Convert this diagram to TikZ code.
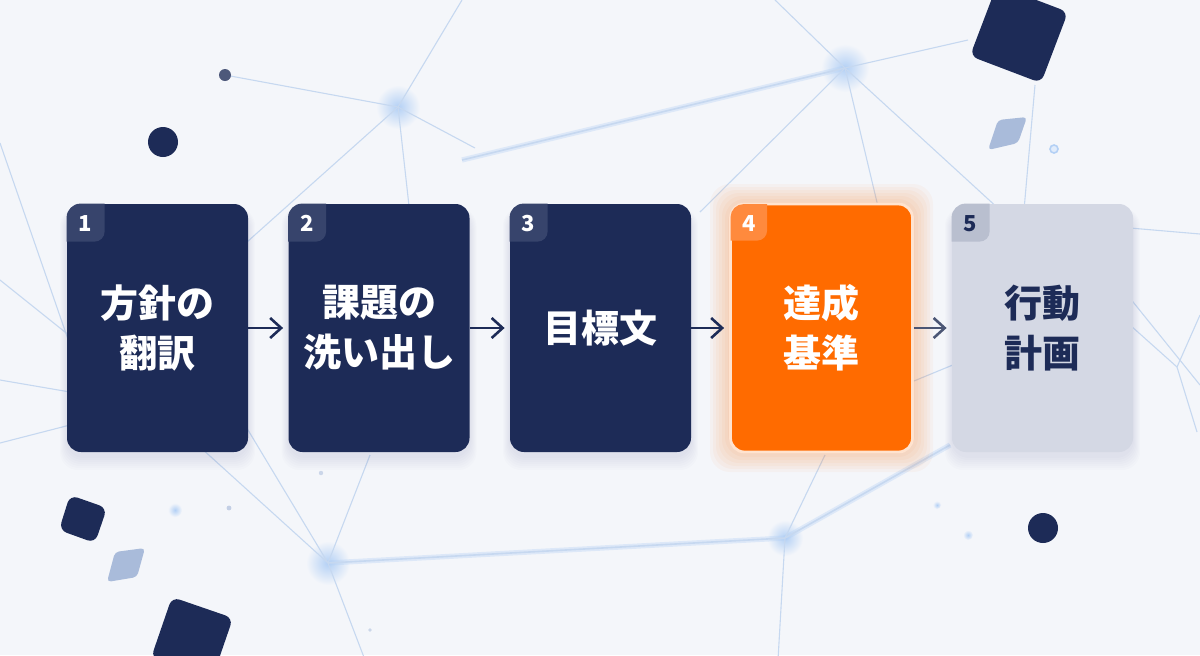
\documentclass[tikz,border=0pt]{standalone}
\usepackage{fontspec}
\newfontfamily\jp{Noto Sans CJK JP}
\usetikzlibrary{arrows.meta}
\definecolor{bg}{HTML}{F4F6FA}
\definecolor{navy}{HTML}{1D2B57}
\definecolor{navybadge}{HTML}{37446C}
\definecolor{myorange}{HTML}{FF6B00}
\definecolor{orbadge}{HTML}{FF8A3D}
\definecolor{orborder}{HTML}{FFE3CF}
\definecolor{gcard}{HTML}{D4D8E4}
\definecolor{gbadge}{HTML}{B9BFCF}
\definecolor{netline}{HTML}{C6D8F0}
\definecolor{glowc}{HTML}{B3D0F5}
\definecolor{arrowgray}{HTML}{4B5675}
\definecolor{lightsq}{HTML}{A9BBDA}
\definecolor{dotgray}{HTML}{4D587A}
\tikzset{
  card/.style={rounded corners=7pt, minimum width=90.5pt, minimum height=124pt,
    inner sep=0pt, align=center, font=\jp\bfseries\fontsize{19}{25}\selectfont, text=white},
  numst/.style={font=\jp\bfseries\fontsize{11}{12}\selectfont, text=white, inner sep=0pt},
  arr/.style={line width=1.3pt, -{Straight Barb[length=5.5pt,width=10pt]}, shorten >=2.5pt},
  net/.style={netline, line width=0.55pt},
  netglow/.style={glowc, line width=2.6pt, opacity=0.35},
}
\begin{document}
\begin{tikzpicture}[x=0.5pt,y=-0.5pt]
\fill[bg] (0,0) rectangle (1200,655);
\useasboundingbox (0,0) rectangle (1200,655);
\begin{scope}
\clip (0,0) rectangle (1200,655);
% glows
\shade[inner color=glowc, outer color=bg] (398,107) circle (11pt);
\shade[inner color=glowc, outer color=bg] (845,68) circle (12pt);
\shade[inner color=glowc, outer color=bg] (328,563) circle (11pt);
\shade[inner color=glowc, outer color=bg] (785,538) circle (9pt);
\shade[inner color=glowc, outer color=bg] (175,510) circle (3.5pt);
\shade[inner color=glowc, outer color=bg] (968,535) circle (2.5pt);
\shade[inner color=glowc, outer color=bg] (937,505) circle (2pt);
% bright connections
\draw[netglow] (845,68) -- (462,160);
\draw[netglow] (328,563) -- (785,538);
\draw[netglow] (785,538) -- (950,445);
% network lines
\draw[net] (225,75) -- (398,107);
\draw[net] (398,107) -- (462,0);
\draw[net] (398,107) -- (200,284);
\draw[net] (398,107) -- (410,215);
\draw[net] (398,107) -- (475,148);
\draw[net] (845,68) -- (775,0);
\draw[net] (845,68) -- (968,40);
\draw[net, line width=0.8pt] (845,68) -- (462,160);
\draw[net] (845,68) -- (700,212);
\draw[net] (845,68) -- (880,215);
\draw[net] (845,68) -- (1000,210);
\draw[net] (1035,85) -- (1024,210);
\draw[net] (1130,228) -- (1200,234);
\draw[net] (1125,292) -- (1200,385);
\draw[net] (1130,325) -- (1177,367);
\draw[net] (1200,315) -- (1177,367) -- (1197,432);
\draw[net] (880,395) -- (960,362);
\draw[net] (0,143) -- (70,345);
\draw[net] (0,280) -- (70,336);
\draw[net] (0,380) -- (70,392);
\draw[net] (0,443) -- (70,425);
\draw[net] (200,447) -- (328,563);
\draw[net] (245,425) -- (328,563);
\draw[net] (370,455) -- (328,563);
\draw[net] (328,563) -- (365,660);
\draw[net, line width=0.8pt] (328,563) -- (785,538);
\draw[net] (785,538) -- (825,455);
\draw[net, line width=0.8pt] (785,538) -- (950,445);
\draw[net] (785,538) -- (778,660);
% small dots
\fill[lightsq!70] (229,508) circle (1.2pt);
\fill[lightsq!60] (321,473) circle (1.1pt);
\fill[lightsq!60] (370,630) circle (0.9pt);
\draw[glowc, line width=0.8pt, fill=glowc!40] (1054,149) circle (2pt);
% decorations
\fill[navy, rounded corners=4pt] (970,56) -- (1041,83) -- (1068,12) -- (997,-15) -- cycle;
\fill[lightsq, rounded corners=2pt] (988,150) -- (998,120) -- (1027,117) -- (1018,143) -- cycle;
\fill[navy, rounded corners=4pt] (70,495) -- (107,508) -- (95,543) -- (59,530) -- cycle;
\fill[lightsq, rounded corners=2pt] (115,552) -- (145,548) -- (137,577) -- (107,582) -- cycle;
\fill[navy, rounded corners=4pt] (172,597) -- (233,618) -- (212,679) -- (151,658) -- cycle;
\fill[navy] (163,142) circle (7.5pt);
\fill[navy] (1043,528) circle (7.5pt);
\fill[dotgray] (225,75) circle (3pt);
\end{scope}
% shadows
\foreach \cx in {157.5,379,600.5,1042.5} {
  \foreach \e in {2,4,6,8,10,12,14} {
    \fill[navy, opacity=0.013, rounded corners=9pt] (\cx-90.5-\e*0.5, 212-\e*0.3) rectangle (\cx+90.5+\e*0.5, 456+\e);
  }
}
% orange glow
\foreach \e in {2,5,8,11,14,17,20} {
  \fill[myorange, opacity=0.04, rounded corners=10pt] (730-\e, 204-\e) rectangle (913+\e, 452+\e);
}
% cards
\node[card, fill=navy] (c1) at (157.5,328) {方針の\\翻訳};
\node[card, fill=navy] (c2) at (379,328) {課題の\\洗い出し};
\node[card, fill=navy] (c3) at (600.5,328) {目標文};
\node[card, fill=myorange, draw=orborder, line width=1.4pt, minimum width=91pt] (c4) at (821.5,328) {達成\\基準};
\node[card, fill=gcard, text=navy] (c5) at (1042.5,328) {行動\\計画};
% badges
\foreach \c/\col in {c1/navybadge, c2/navybadge, c3/navybadge, c5/gbadge} {
  \begin{scope}
    \clip[rounded corners=7pt] (\c.north west) rectangle (\c.south east);
    \fill[\col, rounded corners=5pt] ([shift={(-10,-10)}]\c.north west) rectangle ([shift={(38,38)}]\c.north west);
  \end{scope}
}
\begin{scope}
  \clip[rounded corners=6.5pt] ([shift={(1.5,1.5)}]c4.north west) rectangle ([shift={(-1.5,-1.5)}]c4.south east);
  \fill[orbadge, rounded corners=5pt] ([shift={(-10,-10)}]c4.north west) rectangle ([shift={(38,38)}]c4.north west);
\end{scope}
% numbers
\node[numst] (n1) at ([shift={(19,20)}]c1.north west) {1};
\node[numst] (n2) at ([shift={(19,20)}]c2.north west) {2};
\node[numst] (n3) at ([shift={(19,20)}]c3.north west) {3};
\node[numst] (n4) at ([shift={(20,21)}]c4.north west) {4};
\node[numst, text=navy] (n5) at ([shift={(19,20)}]c5.north west) {5};
% arrows
\draw[arr, navy] (c1.east) -- (c2.west);
\draw[arr, navy] (c2.east) -- (c3.west);
\draw[arr, navy] (c3.east) -- (c4.west);
\draw[arr, arrowgray] (c4.east) -- (c5.west);
\end{tikzpicture}
\end{document}
